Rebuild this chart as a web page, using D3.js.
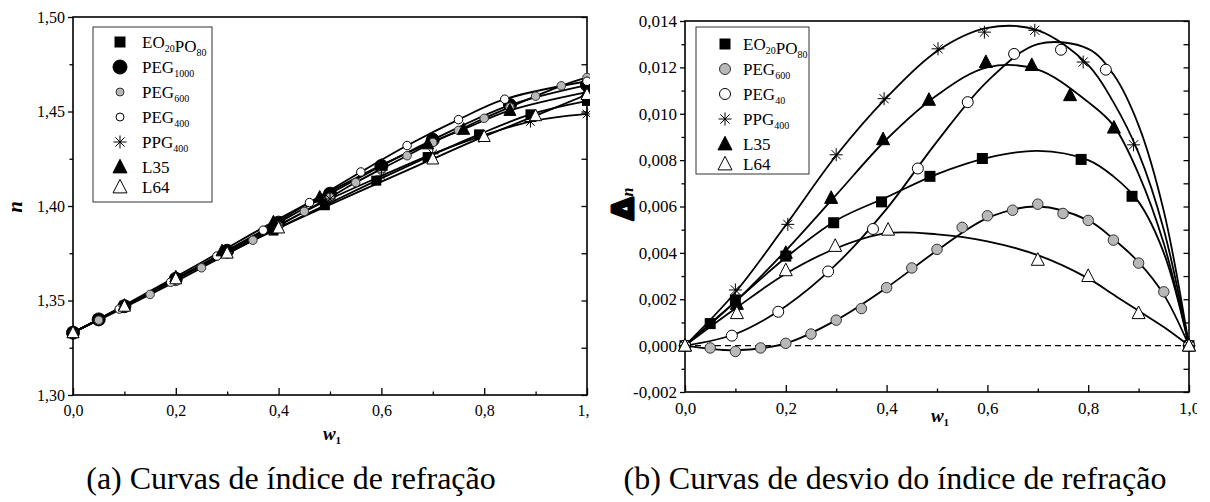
<!DOCTYPE html>
<html>
<head>
<meta charset="utf-8">
<script src="https://cdn.jsdelivr.net/npm/d3@7"></script>
<style>
  body { margin: 0; background: #fff; }
  svg { display: block; }
  text { font-family: "Liberation Serif", "Times New Roman", serif; fill: #000; }
</style>
</head>
<body>
<svg id="fig" width="1210" height="502"></svg>
<script>
// ---- (a) refractive index n vs w1 ----
const wEO_a   = [0, 0.05, 0.1, 0.2, 0.3, 0.39, 0.49, 0.59, 0.69, 0.79, 0.89, 1.0];
const nEO_a   = [1.333, 1.3401, 1.3472, 1.3614, 1.3751, 1.3870, 1.4004, 1.4134, 1.4259, 1.4379, 1.4485, 1.4556];
const wP1000  = [0, 0.05, 0.1, 0.2, 0.3, 0.4, 0.5, 0.6, 0.7, 0.85, 1.0];
const nP1000  = [1.333, 1.3400, 1.3470, 1.3615, 1.3763, 1.3912, 1.4065, 1.4212, 1.4350, 1.4534, 1.4640];
const wP600_a = [0, 0.05, 0.1, 0.15, 0.2, 0.25, 0.3, 0.35, 0.4, 0.45, 0.5, 0.55, 0.6, 0.65, 0.7, 0.75, 0.8, 0.85, 0.9, 0.95, 1.0];
const nP600_a = [1.333, 1.3396, 1.3463, 1.3532, 1.3601, 1.3673, 1.3746, 1.3819, 1.3895, 1.3971, 1.4046, 1.4124, 1.4196, 1.4266, 1.4336, 1.4400, 1.4464, 1.4523, 1.4581, 1.4636, 1.4680];
const wP400_a = [0, 0.09, 0.19, 0.28, 0.37, 0.46, 0.56, 0.65, 0.75, 0.84, 1.0];
const nP400_a = [1.333, 1.3455, 1.3597, 1.3735, 1.3872, 1.4018, 1.4180, 1.4320, 1.4457, 1.4565, 1.4660];
const wPPG_a  = [0, 0.1, 0.2, 0.3, 0.4, 0.5, 0.6, 0.7, 0.79, 0.89, 1.0];
const nPPG_a  = [1.333, 1.3470, 1.3613, 1.3759, 1.3899, 1.4037, 1.4159, 1.4276, 1.4366, 1.4447, 1.4487];
const wL35_a  = [0, 0.1, 0.2, 0.29, 0.39, 0.48, 0.6, 0.69, 0.76, 0.85, 1.0];
const nL35_a  = [1.333, 1.3475, 1.3625, 1.3763, 1.3916, 1.4047, 1.4216, 1.4329, 1.4406, 1.4506, 1.4603];
const wL64_a  = [0, 0.1, 0.2, 0.3, 0.4, 0.7, 0.8, 0.9, 1.0];
const nL64_a  = [1.333, 1.3470, 1.3615, 1.3751, 1.3884, 1.4249, 1.4368, 1.4478, 1.4590];

// ---- (b) deviation dn vs w1: measured points ----
const wEO_b   = [0, 0.05, 0.1, 0.2, 0.295, 0.39, 0.486, 0.59, 0.786, 0.887, 1.0];
const dEO_b   = [0, 0.00095, 0.00197, 0.00386, 0.0053, 0.0062, 0.0073, 0.00807, 0.00803, 0.00644, 0];
const wP600_b = [0, 0.05, 0.1, 0.15, 0.2, 0.25, 0.3, 0.35, 0.4, 0.45, 0.5, 0.55, 0.6, 0.65, 0.7, 0.75, 0.8, 0.85, 0.9, 0.95, 1.0];
const dP600_b = [0, -0.0001, -0.00025, -0.0001, 0.0001, 0.0005, 0.0011, 0.0016, 0.0025, 0.00335, 0.00415, 0.0051, 0.0056, 0.00584, 0.0061, 0.0057, 0.0054, 0.00455, 0.00356, 0.00232, 0];
const wP40_b  = [0, 0.093, 0.185, 0.284, 0.373, 0.462, 0.561, 0.653, 0.746, 0.835, 1.0];
const dP40_b  = [0, 0.00043, 0.00146, 0.0032, 0.00503, 0.00764, 0.0105, 0.01258, 0.01276, 0.0119, 0];
const wPPG_b  = [0, 0.1, 0.204, 0.3, 0.395, 0.502, 0.594, 0.694, 0.79, 0.89, 1.0];
const dPPG_b  = [0, 0.0024, 0.00523, 0.00823, 0.01065, 0.0128, 0.01352, 0.0136, 0.01223, 0.00866, 0];
const wL35_b  = [0, 0.103, 0.2, 0.29, 0.393, 0.484, 0.597, 0.688, 0.764, 0.851, 1.0];
const dL35_b  = [0, 0.0018, 0.004, 0.00637, 0.0089, 0.0106, 0.01223, 0.0121, 0.0108, 0.0094, 0];
const wL64_b  = [0, 0.103, 0.2, 0.298, 0.403, 0.7, 0.8, 0.9, 1.0];
const dL64_b  = [0, 0.0014, 0.00325, 0.0043, 0.005, 0.0037, 0.003, 0.0014, 0];

// ---- (b) fitted curves ----
const fitW      = [0, 0.1, 0.2, 0.3, 0.4, 0.5, 0.6, 0.7, 0.8, 0.85, 0.9, 0.95, 1.0];
const fitEO     = [0, 0.0019, 0.0038, 0.0054, 0.0064, 0.0074, 0.0081, 0.0084, 0.0080, 0.0073, 0.0062, 0.0040, 0];
const fitP600   = [0, -0.0002, 0.0001, 0.0011, 0.0025, 0.0041, 0.0055, 0.0060, 0.0054, 0.0046, 0.0036, 0.0022, 0];
const fitP40    = [0, 0.0005, 0.0017, 0.0035, 0.0059, 0.0088, 0.0114, 0.0130, 0.0128, 0.0117, 0.0095, 0.0058, 0];
const fitPPG    = [0, 0.0023, 0.0052, 0.0082, 0.0107, 0.0127, 0.0137, 0.0136, 0.0121, 0.0105, 0.0083, 0.0050, 0];
const fitL35    = [0, 0.0019, 0.0041, 0.0065, 0.0089, 0.0108, 0.0120, 0.0119, 0.0105, 0.0095, 0.0074, 0.0044, 0];
const fitL64    = [0, 0.0016, 0.0031, 0.0042, 0.00485, 0.0048, 0.0045, 0.0039, 0.0029, 0.0022, 0.0015, 0.0008, 0];

// ticks
const xTicks     = [0, 0.2, 0.4, 0.6, 0.8, 1.0];
const xMinor     = [0.1, 0.3, 0.5, 0.7, 0.9];
const yTicksA    = [1.30, 1.35, 1.40, 1.45, 1.50];
const yMinorA    = [1.325, 1.375, 1.425, 1.475];
const yTicksB    = [-0.002, 0, 0.002, 0.004, 0.006, 0.008, 0.010, 0.012, 0.014];
const yMinorB    = [-0.001, 0.001, 0.003, 0.005, 0.007, 0.009, 0.011, 0.013];

// legend labels: [text, subscript] pairs
const labelEO    = [["EO", "20"], ["PO", "80"]];
const labelP1000 = [["PEG", "1000"]];
const labelP600  = [["PEG", "600"]];
const labelP400  = [["PEG", "400"]];
const labelP40   = [["PEG", "40"]];
const labelPPG   = [["PPG", "400"]];
const labelL35   = [["L35", ""]];
const labelL64   = [["L64", ""]];

const SERIF = '"Liberation Serif", "Times New Roman", serif';
const loc = d3.formatLocale({decimal: ",", thousands: ".", grouping: [3], currency: ["", ""], minus: "-"});

const svg = d3.select('#fig');
const defs = svg.append('defs');
defs.append('clipPath').attr('id', 'clipA').append('rect').attr('x', 0).attr('y', 0).attr('width', 590).attr('height', 502);
defs.append('clipPath').attr('id', 'clipB').append('rect').attr('x', 590).attr('y', 0).attr('width', 607).attr('height', 502);

function mark(g, type, cx, cy, s) {
  const h = s / 2;
  if (type === 'sq') {
    g.append('rect').attr('x', cx - h).attr('y', cy - h).attr('width', s).attr('height', s).attr('fill', '#000');
  } else if (type === 'dot' || type === 'gray' || type === 'open') {
    g.append('circle').attr('cx', cx).attr('cy', cy).attr('r', h)
      .attr('fill', type === 'dot' ? '#000' : type === 'gray' ? '#b8b8b8' : '#fff')
      .attr('stroke', type === 'gray' ? '#333' : '#000').attr('stroke-width', 1);
  } else if (type === 'star') {
    const d = h * 0.707;
    g.append('path')
      .attr('d', `M${cx - h},${cy}H${cx + h}M${cx},${cy - h}V${cy + h}M${cx - d},${cy - d}L${cx + d},${cy + d}M${cx - d},${cy + d}L${cx + d},${cy - d}`)
      .attr('stroke', '#000').attr('stroke-width', 1).attr('fill', 'none');
  } else {
    g.append('path')
      .attr('d', `M${cx},${cy - s * 0.55}L${cx + h},${cy + s * 0.42}L${cx - h},${cy + s * 0.42}Z`)
      .attr('fill', type === 'tri' ? '#000' : '#fff').attr('stroke', '#000').attr('stroke-width', 1);
  }
}

function axesFor(g, x, y, yTicks, yMinor, yFmt, fs) {
  const [x0, x1] = x.range();
  const [y0, y1] = y.range();
  const styleAx = sel => {
    sel.attr('font-family', null).attr('font-size', null);
    sel.select('.domain').remove();
    sel.selectAll('line').attr('stroke', '#000').attr('stroke-width', 1.3);
    sel.selectAll('text').style('font-family', SERIF).style('font-size', fs + 'px');
  };

  g.append('g').attr('transform', `translate(0,${y0})`)
    .call(d3.axisBottom(x).tickValues(xTicks).tickFormat(loc.format('.1f')).tickSize(-7).tickPadding(10))
    .call(styleAx);
  g.append('g').attr('transform', `translate(0,${y0})`)
    .call(d3.axisBottom(x).tickValues(xMinor).tickFormat('').tickSize(-3.5))
    .call(styleAx);
  g.append('g').attr('transform', `translate(${x0},0)`)
    .call(d3.axisLeft(y).tickValues(yTicks).tickFormat(loc.format(yFmt)).tickSize(5).tickPadding(3))
    .call(styleAx);
  g.append('g').attr('transform', `translate(${x0},0)`)
    .call(d3.axisLeft(y).tickValues(yMinor).tickFormat('').tickSize(3.5))
    .call(styleAx);
  g.append('g').attr('transform', `translate(${x1},0)`)
    .call(d3.axisRight(y).tickValues(yTicks.concat(yMinor)).tickFormat('').tickSize(-5.5))
    .call(styleAx);

  g.append('rect').attr('x', x0).attr('y', y1).attr('width', x1 - x0).attr('height', y0 - y1)
    .attr('fill', 'none').attr('stroke', '#000').attr('stroke-width', 1.6);
}

function legend(g, items, bx, by, bw, bh, sx, tx, top, sizes) {
  g.append('rect').attr('x', bx).attr('y', by).attr('width', bw).attr('height', bh)
    .attr('fill', '#fff').attr('stroke', '#333').attr('stroke-width', 1);
  let cy = top;
  items.forEach((it, i) => {
    if (i > 0) cy += items[i - 1].label[0][1] ? 25 : 20;
    mark(g, it.mark, sx, cy, sizes[it.mark]);
    const t = g.append('text').attr('x', tx).attr('y', cy + 6).attr('font-size', 17);
    it.label.forEach(([base, sub]) => {
      t.append('tspan').attr('font-size', 17).text(base);
      if (sub) {
        t.append('tspan').attr('font-size', 10).attr('dy', 4).text(sub);
        t.append('tspan').attr('font-size', 17).attr('dy', -4).text('');
      }
    });
  });
}

// ================= panel (a) =================
const xa = d3.scaleLinear([0, 1], [73, 587]);
const ya = d3.scaleLinear([1.30, 1.50], [395, 17]);
const gA = svg.append('g').attr('clip-path', 'url(#clipA)');

const seriesA = [
  {w: wEO_a,   v: nEO_a,   mark: 'sq',   label: labelEO},
  {w: wP1000,  v: nP1000,  mark: 'dot',  label: labelP1000},
  {w: wP600_a, v: nP600_a, mark: 'gray', label: labelP600},
  {w: wP400_a, v: nP400_a, mark: 'open', label: labelP400},
  {w: wPPG_a,  v: nPPG_a,  mark: 'star', label: labelPPG},
  {w: wL35_a,  v: nL35_a,  mark: 'tri',  label: labelL35},
  {w: wL64_a,  v: nL64_a,  mark: 'trio', label: labelL64}
];
const sizeA = {sq: 10, dot: 13, gray: 8.5, open: 8.5, star: 12, tri: 12, trio: 12};
const lineA = d3.line().x(d => xa(d[0])).y(d => ya(d[1])).curve(d3.curveCatmullRom.alpha(0.5));

axesFor(gA, xa, ya, yTicksA, yMinorA, '.2f', 16);
seriesA.forEach(s => {
  gA.append('path').attr('d', lineA(s.w.map((w, i) => [w, s.v[i]])))
    .attr('fill', 'none').attr('stroke', '#000').attr('stroke-width', 1.8);
});
seriesA.forEach(s => s.w.forEach((w, i) => mark(gA, s.mark, xa(w), ya(s.v[i]), sizeA[s.mark])));
legend(gA, seriesA, 93, 27, 119, 175, 120, 142, 42, {sq: 11, dot: 14, gray: 8, open: 8, star: 13, tri: 14, trio: 14});

gA.append('text').attr('transform', 'translate(22,207) rotate(-90)').attr('text-anchor', 'middle')
  .attr('font-size', 21).attr('font-weight', 'bold').attr('font-style', 'italic').text('n');
const wa = gA.append('text').attr('x', 332).attr('y', 440).attr('text-anchor', 'middle')
  .attr('font-size', 19).attr('font-weight', 'bold').attr('font-style', 'italic');
wa.append('tspan').text('w');
wa.append('tspan').attr('font-size', 11).attr('font-style', 'normal').attr('dy', 4).text('1');

// ================= panel (b) =================
const xb = d3.scaleLinear([0, 1], [685, 1189]);
const yb = d3.scaleLinear([-0.002, 0.014], [392, 21]);
const gB = svg.append('g').attr('clip-path', 'url(#clipB)');

const seriesB = [
  {w: wEO_b,   v: dEO_b,   fit: fitEO,   mark: 'sq',   label: labelEO},
  {w: wP600_b, v: dP600_b, fit: fitP600, mark: 'gray', label: labelP600},
  {w: wP40_b,  v: dP40_b,  fit: fitP40,  mark: 'open', label: labelP40},
  {w: wPPG_b,  v: dPPG_b,  fit: fitPPG,  mark: 'star', label: labelPPG},
  {w: wL35_b,  v: dL35_b,  fit: fitL35,  mark: 'tri',  label: labelL35},
  {w: wL64_b,  v: dL64_b,  fit: fitL64,  mark: 'trio', label: labelL64}
];
const sizeB = {sq: 11, gray: 10.5, open: 11, star: 13, tri: 13, trio: 13};
const lineB = d3.line().x(d => xb(d[0])).y(d => yb(d[1])).curve(d3.curveCatmullRom.alpha(0.5));

axesFor(gB, xb, yb, yTicksB, yMinorB, '.3f', 17);
gB.append('line').attr('x1', xb(0)).attr('x2', xb(1)).attr('y1', yb(0)).attr('y2', yb(0))
  .attr('stroke', '#000').attr('stroke-width', 1.3).attr('stroke-dasharray', '6,4');
seriesB.forEach(s => {
  gB.append('path').attr('d', lineB(fitW.map((w, i) => [w, s.fit[i]])))
    .attr('fill', 'none').attr('stroke', '#000').attr('stroke-width', 1.8);
});
seriesB.forEach(s => s.w.forEach((w, i) => mark(gB, s.mark, xb(w), yb(s.v[i]), sizeB[s.mark])));
legend(gB, seriesB, 696, 27, 113, 147, 725, 743, 44, {sq: 11, gray: 11, open: 11, star: 13, tri: 14, trio: 14});

const dn = gB.append('text').attr('transform', 'translate(633,220) rotate(-90)')
  .attr('font-weight', 'bold');
dn.append('tspan').attr('font-size', 29).attr('stroke', '#000').attr('stroke-width', 3)
  .attr('stroke-linejoin', 'round').style('font-family', '"DejaVu Sans", sans-serif').text('Δ');
dn.append('tspan').attr('font-size', 16).attr('font-style', 'italic').attr('dx', 1).text('n');
const wb = gB.append('text').attr('x', 940).attr('y', 422).attr('text-anchor', 'middle')
  .attr('font-size', 19).attr('font-weight', 'bold').attr('font-style', 'italic');
wb.append('tspan').text('w');
wb.append('tspan').attr('font-size', 11).attr('font-style', 'normal').attr('dy', 4).text('1');

// ================= captions =================
svg.append('text').attr('x', 291).attr('y', 489).attr('text-anchor', 'middle').attr('font-size', 32)
  .text('(a) Curvas de índice de refração');
svg.append('text').attr('x', 895).attr('y', 489).attr('text-anchor', 'middle').attr('font-size', 32)
  .text('(b) Curvas de desvio do índice de refração');
</script>
</body>
</html>
